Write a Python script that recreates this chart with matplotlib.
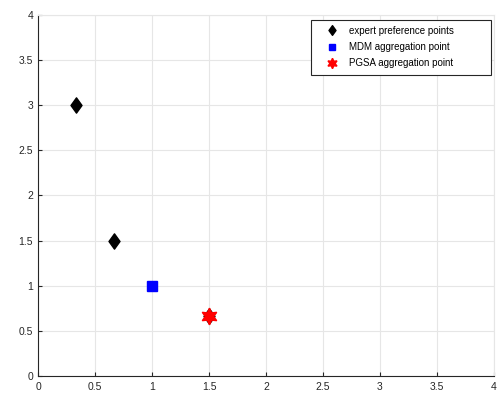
import matplotlib.pyplot as plt
from matplotlib.path import Path
from matplotlib.patches import Rectangle
from matplotlib.lines import Line2D

# -------- DATA --------
expert_x = [1 / 3, 2 / 3, 1.5]
expert_y = [3.0, 1.5, 2 / 3]
mdm_x = [1.0]
mdm_y = [1.0]
pgsa_x = [1.5]
pgsa_y = [2 / 3]
ticks = [0, 0.5, 1, 1.5, 2, 2.5, 3, 3.5, 4]
tick_labels = ["0", "0.5", "1", "1.5", "2", "2.5", "3", "3.5", "4"]
names = ["expert preference points", "MDM aggregation point", "PGSA aggregation point"]

plt.rcParams["font.family"] = ["Liberation Sans", "DejaVu Sans"]

# matlab-style diamond (wider than matplotlib's "d")
diamond = Path([(0, 1), (0.72, 0), (0, -1), (-0.72, 0), (0, 1)],
               [Path.MOVETO, Path.LINETO, Path.LINETO, Path.LINETO, Path.CLOSEPOLY])
hexagram = (6, 1, 0)

fig = plt.figure(figsize=(4.99, 3.93), dpi=100)
ax = fig.add_axes([0.0762, 0.0433, 0.9138, 0.9185])

ax.plot(expert_x, expert_y, marker=diamond, color="black", markersize=11,
        linestyle="none")
ax.plot(mdm_x, mdm_y, "s", color="#0000ff", markersize=7.2, linestyle="none")
ax.plot(pgsa_x, pgsa_y, marker=hexagram, color="#ff0000", markersize=12,
        linestyle="none")

ax.set_xlim(0, 4)
ax.set_ylim(0, 4)
ax.set_xticks(ticks)
ax.set_xticklabels(tick_labels)
ax.set_yticks(ticks)
ax.set_yticklabels(tick_labels)

ax.grid(True, color="#e6e6e6", linewidth=0.8)
ax.set_axisbelow(True)

for side in ["top", "right"]:
    ax.spines[side].set_color("#e6e6e6")
    ax.spines[side].set_linewidth(0.8)
for side in ["left", "bottom"]:
    ax.spines[side].set_color("#262626")
    ax.spines[side].set_linewidth(0.8)

ax.tick_params(direction="in", length=3, width=0.8, colors="#262626",
               labelsize=7.5, labelcolor="#262626")
ax.tick_params(axis="x", pad=4)

# -------- LEGEND --------
handles = [
    Line2D([], [], marker=diamond, color="black", markersize=7, linestyle="none"),
    Line2D([], [], marker="s", color="#0000ff", markersize=4.5, linestyle="none"),
    Line2D([], [], marker=hexagram, color="#ff0000", markersize=7.5, linestyle="none"),
]
fig.patches.append(Rectangle((311 / 499, 1 - 75 / 393), 180 / 499, 55 / 393,
                             transform=fig.transFigure, facecolor="white",
                             edgecolor="#262626", linewidth=0.8, zorder=5))
leg = fig.legend(handles, names, loc="upper left",
                 bbox_to_anchor=(326 / 499, 1 - 25.5 / 393),
                 bbox_transform=fig.transFigure, frameon=False, fontsize=7,
                 borderpad=0, borderaxespad=0, handlelength=1.2,
                 handletextpad=1.15, labelspacing=0.66)
leg.set_zorder(6)

plt.savefig("out.png", dpi=100)
